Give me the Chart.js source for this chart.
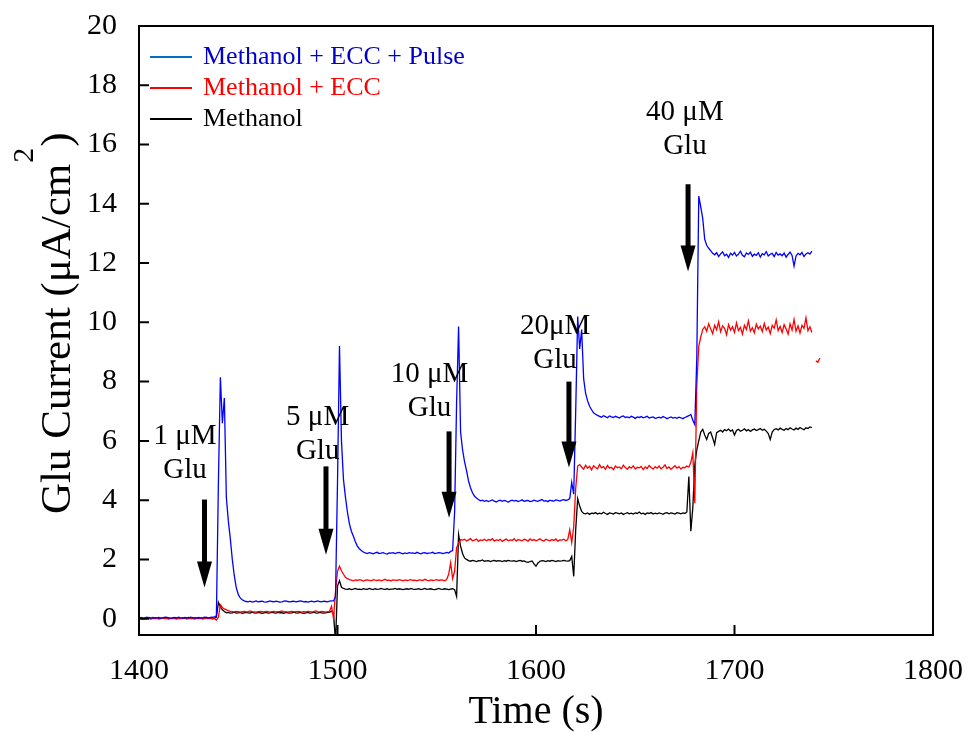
<!DOCTYPE html>
<html>
<head>
<meta charset="utf-8">
<title>Glu current vs time</title>
<script src="https://cdn.jsdelivr.net/npm/chart.js@4.4.1/dist/chart.umd.min.js"></script>
<style>
  html, body { margin: 0; padding: 0; background: #fff; }
</style>
</head>
<body>
<canvas id="chart" width="969" height="732"></canvas>
<script>
// Time axis, one sample per second (s)
var timeSec = [
  1400, 1401, 1402, 1403, 1404, 1405, 1406, 1407, 1408, 1409,
  1410, 1411, 1412, 1413, 1414, 1415, 1416, 1417, 1418, 1419,
  1420, 1421, 1422, 1423, 1424, 1425, 1426, 1427, 1428, 1429,
  1430, 1431, 1432, 1433, 1434, 1435, 1436, 1437, 1438, 1439,
  1440, 1441, 1442, 1443, 1444, 1445, 1446, 1447, 1448, 1449,
  1450, 1451, 1452, 1453, 1454, 1455, 1456, 1457, 1458, 1459,
  1460, 1461, 1462, 1463, 1464, 1465, 1466, 1467, 1468, 1469,
  1470, 1471, 1472, 1473, 1474, 1475, 1476, 1477, 1478, 1479,
  1480, 1481, 1482, 1483, 1484, 1485, 1486, 1487, 1488, 1489,
  1490, 1491, 1492, 1493, 1494, 1495, 1496, 1497, 1498, 1499,
  1500, 1501, 1502, 1503, 1504, 1505, 1506, 1507, 1508, 1509,
  1510, 1511, 1512, 1513, 1514, 1515, 1516, 1517, 1518, 1519,
  1520, 1521, 1522, 1523, 1524, 1525, 1526, 1527, 1528, 1529,
  1530, 1531, 1532, 1533, 1534, 1535, 1536, 1537, 1538, 1539,
  1540, 1541, 1542, 1543, 1544, 1545, 1546, 1547, 1548, 1549,
  1550, 1551, 1552, 1553, 1554, 1555, 1556, 1557, 1558, 1559,
  1560, 1561, 1562, 1563, 1564, 1565, 1566, 1567, 1568, 1569,
  1570, 1571, 1572, 1573, 1574, 1575, 1576, 1577, 1578, 1579,
  1580, 1581, 1582, 1583, 1584, 1585, 1586, 1587, 1588, 1589,
  1590, 1591, 1592, 1593, 1594, 1595, 1596, 1597, 1598, 1599,
  1600, 1601, 1602, 1603, 1604, 1605, 1606, 1607, 1608, 1609,
  1610, 1611, 1612, 1613, 1614, 1615, 1616, 1617, 1618, 1619,
  1620, 1621, 1622, 1623, 1624, 1625, 1626, 1627, 1628, 1629,
  1630, 1631, 1632, 1633, 1634, 1635, 1636, 1637, 1638, 1639,
  1640, 1641, 1642, 1643, 1644, 1645, 1646, 1647, 1648, 1649,
  1650, 1651, 1652, 1653, 1654, 1655, 1656, 1657, 1658, 1659,
  1660, 1661, 1662, 1663, 1664, 1665, 1666, 1667, 1668, 1669,
  1670, 1671, 1672, 1673, 1674, 1675, 1676, 1677, 1678, 1679,
  1680, 1681, 1682, 1683, 1684, 1685, 1686, 1687, 1688, 1689,
  1690, 1691, 1692, 1693, 1694, 1695, 1696, 1697, 1698, 1699,
  1700, 1701, 1702, 1703, 1704, 1705, 1706, 1707, 1708, 1709,
  1710, 1711, 1712, 1713, 1714, 1715, 1716, 1717, 1718, 1719,
  1720, 1721, 1722, 1723, 1724, 1725, 1726, 1727, 1728, 1729,
  1730, 1731, 1732, 1733, 1734, 1735, 1736, 1737, 1738, 1739,
  1740, 1741, 1742, 1743
];

// Methanol + ECC + Pulse (uA/cm2)
var pulseCurrent = [
  0.03, 0.04, 0.02, 0.03, 0.05, 0.03, 0.02, 0.04, 0.03, 0.03,
  0.04, 0.02, 0.03, 0.05, 0.04, 0.03, 0.02, 0.03, 0.04, 0.03,
  0.05, 0.03, 0.02, 0.04, 0.03, 0.03, 0.05, 0.04, 0.02, 0.03,
  0.04, 0.03, 0.03, 0.05, 0.04, 0.03, 0.04, 0.05, 0.06,
  0.1, 4.6, 8.15, 6.6, 7.45, 4.1, 3.3, 2.7, 2.0, 1.45, 1.05, 0.82, 0.7, 0.64, 0.6,
  0.58, 0.57, 0.59, 0.56, 0.58, 0.6, 0.57, 0.58, 0.59, 0.57,
  0.56, 0.58, 0.6, 0.58, 0.57, 0.59, 0.58, 0.56, 0.57, 0.59,
  0.6, 0.58, 0.57, 0.58, 0.59, 0.57, 0.58, 0.6, 0.59, 0.57,
  0.58, 0.56, 0.58, 0.59, 0.57, 0.58, 0.6, 0.58, 0.57, 0.59,
  0.58, 0.57, 0.59, 0.6,
  0.6, 0.75, 4.6, 9.2, 6.0, 4.7, 4.1, 3.6, 3.2, 2.95, 2.78, 2.6, 2.45, 2.36, 2.3, 2.25,
  2.22, 2.2, 2.23, 2.21, 2.19, 2.22, 2.24, 2.2, 2.21, 2.23,
  2.2, 2.18, 2.22, 2.21, 2.23, 2.2, 2.22, 2.24, 2.21, 2.19,
  2.22, 2.2, 2.23, 2.21, 2.22, 2.2, 2.24, 2.21, 2.19, 2.22,
  2.23, 2.2, 2.21, 2.22, 2.24, 2.2, 2.21, 2.23, 2.22, 2.2,
  2.21, 2.24, 2.22, 2.27,
  2.3, 3.6, 7.3, 9.86, 6.3, 5.7, 5.3, 5.0, 4.65, 4.42, 4.25, 4.14, 4.07, 4.02,
  3.98, 4.0, 3.96, 3.99, 3.95, 3.98, 4.01, 3.97, 3.94, 3.98,
  4.0, 3.96, 3.99, 3.97, 3.93, 3.98, 4.0, 3.97, 3.99, 3.95,
  3.98, 4.01, 3.96, 3.98, 3.99, 3.95, 3.97, 4.0, 3.98, 3.96,
  3.99, 4.02, 3.97, 3.98, 3.95, 4.0, 3.98, 3.97, 4.01, 3.99,
  3.97, 4.0, 4.02, 3.99, 4.01,
  4.05, 4.6, 4.2, 7.0, 10.2, 9.1, 9.76, 8.1, 7.6, 7.35, 7.17, 7.05, 6.95, 6.9,
  6.86, 6.83, 6.8, 6.85, 6.82, 6.78, 6.84, 6.81, 6.79, 6.83,
  6.8, 6.77, 6.82, 6.84, 6.79, 6.81, 6.78, 6.83, 6.8, 6.76,
  6.81, 6.79, 6.82, 6.78, 6.8, 6.83, 6.77, 6.79, 6.81, 6.76,
  6.78, 6.8, 6.77, 6.82, 6.79, 6.75, 6.78, 6.81, 6.77, 6.79,
  6.76, 6.8, 6.78, 6.75, 6.79, 6.82, 6.85,
  6.89, 6.7, 6.55, 8.8, 14.26, 13.9, 13.5, 12.8, 12.6, 12.5, 12.42, 12.33,
  12.28, 12.35, 12.22, 12.31, 12.38, 12.25, 12.3, 12.19, 12.33, 12.27,
  12.36, 12.24, 12.3, 12.4, 12.26, 12.21, 12.34, 12.29, 12.37, 12.23,
  12.3, 12.26, 12.35, 12.2, 12.32, 12.28, 12.39, 12.24, 12.3, 12.33,
  12.22, 12.36, 12.27, 12.31, 12.25, 12.34, 12.2, 12.29, 12.37, 12.26,
  11.9, 12.24, 12.33, 12.28, 12.36, 12.22, 12.31, 12.35, 12.3, 12.4
];

// Methanol + ECC (uA/cm2)
var eccCurrent = [
  0.0, 0.01, -0.01, 0.0, 0.02, 0.0, -0.01, 0.01, 0.0, 0.01,
  -0.01, 0.0, 0.02, 0.0, 0.01, -0.01, 0.0, 0.01, 0.0, -0.01,
  0.01, 0.0, 0.0, 0.02, -0.01, 0.0, 0.01, 0.0, -0.01, 0.01,
  0.0, 0.01, -0.01, 0.0, 0.02, 0.0, 0.01, -0.01, 0.0, -0.05,
  0.05, 0.47, 0.38, 0.33, 0.3, 0.27, 0.25,
  0.24, 0.23, 0.25, 0.24, 0.22, 0.24, 0.25, 0.23, 0.24, 0.26,
  0.24, 0.23, 0.22, 0.24, 0.25, 0.24, 0.23, 0.25, 0.24, 0.22,
  0.24, 0.25, 0.23, 0.24, 0.24, 0.26, 0.23, 0.24, 0.22, 0.24,
  0.25, 0.23, 0.24, 0.25, 0.24, 0.22, 0.24, 0.23, 0.25, 0.24,
  0.23, 0.24, 0.26, 0.24, 0.23, 0.25, 0.24, 0.22, 0.24, 0.25,
  0.42, 0.0, 0.9, 1.6, 1.77, 1.62, 1.5, 1.4, 1.35, 1.32,
  1.3, 1.28, 1.31, 1.29, 1.32, 1.3, 1.27, 1.3, 1.31, 1.29,
  1.28, 1.32, 1.3, 1.29, 1.31, 1.28, 1.3, 1.33, 1.29, 1.3,
  1.28, 1.31, 1.3, 1.29, 1.32, 1.3, 1.28, 1.31, 1.29, 1.3,
  1.32, 1.29, 1.3, 1.28, 1.31, 1.3, 1.29, 1.33, 1.3, 1.28,
  1.31, 1.29, 1.3, 1.32, 1.29, 1.31, 1.3, 1.28, 1.32,
  1.5, 1.89, 1.35, 1.6, 2.4, 2.55, 2.67,
  2.65, 2.68, 2.62, 2.66, 2.7, 2.63, 2.65, 2.69, 2.61, 2.66,
  2.64, 2.68, 2.63, 2.67, 2.65, 2.7, 2.62, 2.66, 2.64, 2.68,
  2.61, 2.65, 2.69, 2.63, 2.66, 2.64, 2.7, 2.62, 2.67, 2.65,
  2.63, 2.68, 2.66, 2.62, 2.69, 2.64, 2.67, 2.63, 2.66, 2.7,
  2.64, 2.62, 2.68, 2.65, 2.63, 2.67, 2.64, 2.69, 2.62, 2.66,
  2.65, 2.68, 2.63, 2.67,
  3.0, 2.57, 3.1, 4.4, 5.15, 5.2,
  5.12, 5.05, 5.18, 5.08, 5.14, 5.02, 5.16, 5.1, 5.06, 5.2,
  5.09, 5.13, 5.04, 5.17, 5.08, 5.11, 5.03, 5.15, 5.09, 5.12,
  5.06, 5.18, 5.1, 5.04, 5.13, 5.08, 5.16, 5.05, 5.11, 5.09,
  5.14, 5.03, 5.12, 5.07, 5.17, 5.1, 5.05, 5.13, 5.08, 5.15,
  5.06, 5.11, 5.19, 5.07, 5.12, 5.04, 5.1, 5.16, 5.08, 5.13,
  5.05, 5.11, 5.09, 5.15, 5.12,
  5.27, 5.6, 3.9, 7.85, 9.2, 9.5, 9.76,
  9.85, 9.7, 9.95, 9.78, 9.62, 9.9, 9.75, 10.02, 9.68, 9.88,
  9.8, 9.58, 9.92, 9.74, 9.85, 9.66, 9.98, 9.72, 9.83, 9.6,
  9.9, 9.76, 10.05, 9.7, 9.82, 9.65, 9.94, 9.78, 9.87, 9.69,
  9.96, 9.74, 9.84, 9.62, 9.9, 9.8, 10.08, 9.72, 9.86, 9.66,
  9.92, 9.78, 9.6, 9.95, 9.74, 10.1, 9.7, 9.88, 9.64, 9.9,
  9.8, 10.15, 9.72, 9.85, 9.66,
  null, 8.7, 8.65, 8.8
];

// Methanol only (uA/cm2)
var methanolCurrent = [
  0.02, 0.03, 0.01, 0.02, 0.02, 0.04, 0.01, 0.02, 0.03, 0.02,
  0.01, 0.02, 0.03, 0.02, 0.04, 0.02, 0.01, 0.02, 0.03, 0.02,
  0.02, 0.01, 0.03, 0.02, 0.02, 0.04, 0.02, 0.01, 0.03, 0.02,
  0.02, 0.03, 0.01, 0.02, 0.04, 0.02, 0.02, 0.03, 0.01, 0.05,
  0.55, 0.4, 0.3, 0.24,
  0.2, 0.21, 0.19, 0.2, 0.22, 0.19, 0.2, 0.21, 0.18, 0.2,
  0.21, 0.2, 0.19, 0.22, 0.2, 0.19, 0.21, 0.2, 0.18, 0.2,
  0.21, 0.19, 0.2, 0.22, 0.2, 0.19, 0.21, 0.2, 0.2, 0.18,
  0.21, 0.2, 0.19, 0.2, 0.22, 0.2, 0.19, 0.21, 0.2, 0.18,
  0.2, 0.21, 0.19, 0.2, 0.22, 0.2, 0.19, 0.21, 0.2, 0.19,
  0.2, 0.21, 0.22, 0.25, 0.18,
  -0.8, 1.1, 1.28, 1.06,
  1.02, 1.0, 0.99, 1.01, 0.98, 1.0, 1.02, 0.99, 1.0, 0.98,
  1.01, 1.0, 0.99, 1.02, 1.0, 0.98, 1.01, 0.99, 1.0, 1.02,
  1.0, 0.99, 1.01, 0.98, 1.0, 1.0, 1.02, 0.99, 1.01, 1.0,
  0.98, 1.0, 1.01, 0.99, 1.02, 1.0, 0.99, 1.0, 1.01, 0.98,
  1.0, 1.02, 0.99, 1.0, 1.01, 0.99, 0.98, 1.0, 1.02, 1.0,
  0.99, 1.01, 1.0, 0.98, 1.0, 1.01, 0.98,
  0.75, 2.84, 2.45, 2.2, 2.05, 2.0,
  1.96, 1.94, 1.97, 1.95, 1.93, 1.96, 1.95, 1.98, 1.94, 1.95,
  1.96, 1.93, 1.95, 1.97, 1.94, 1.96, 1.95, 1.93, 1.96, 1.94,
  1.97, 1.95, 1.94, 1.96, 1.93, 1.95, 1.97, 1.94, 1.95, 1.92,
  1.9, 1.93, 1.95, 1.85, 1.77, 1.88, 1.94, 1.96, 1.95, 1.93,
  1.96, 1.94, 1.97, 1.95, 1.93, 1.96, 1.94, 1.95, 1.97, 1.95,
  1.94, 1.96,
  2.1, 1.43, 3.0, 4.05, 3.8, 3.62, 3.55,
  3.54, 3.57, 3.52, 3.56, 3.55, 3.58, 3.53, 3.56, 3.54, 3.59,
  3.55, 3.52, 3.57, 3.55, 3.53, 3.58, 3.56, 3.54, 3.57, 3.52,
  3.55, 3.58, 3.54, 3.56, 3.53, 3.57, 3.55, 3.6, 3.54, 3.56,
  3.52, 3.57, 3.55, 3.58, 3.53, 3.56, 3.54, 3.57, 3.55, 3.52,
  3.56, 3.58, 3.54, 3.57, 3.55, 3.53, 3.58, 3.56, 3.54, 3.57,
  3.55, 3.6,
  4.8, 2.95, 3.75, 5.2, 5.7, 6.0, 6.3, 6.39, 6.2, 6.05, 6.25, 6.3, 6.1, 5.88, 6.28,
  6.32, 6.36, 6.3, 6.38, 6.34, 6.4, 6.33, 6.37, 6.2, 6.35,
  6.39, 6.33, 6.36, 6.41, 6.34, 6.38, 6.32, 6.37, 6.4, 6.35,
  6.38, 6.42, 6.36, 6.39, 6.33, 6.25, 6.05, 6.3, 6.38, 6.41,
  6.37, 6.43, 6.39, 6.36, 6.42, 6.38, 6.44, 6.4, 6.37, 6.43,
  6.39, 6.45, 6.41, 6.38, 6.44, 6.42, 6.47, 6.45
];

var seriesNames = ['Methanol + ECC + Pulse', 'Methanol + ECC', 'Methanol'];
var yTickValues = [0, 2, 4, 6, 8, 10, 12, 14, 16, 18, 20];
var xTickValues = [1400, 1500, 1600, 1700, 1800];

// Glutamate additions: arrow time, arrow top/tip (current units), label lines
var glutamateAdds = [
  {t: 1433.0, top: 4.02, tip: 1.05, lines: ['1 μM', 'Glu'], labelT: 1423.2, labelV: 6.15},
  {t: 1494.2, top: 5.14, tip: 2.16, lines: ['5 μM', 'Glu'], labelT: 1490.0, labelV: 6.79},
  {t: 1556.2, top: 6.32, tip: 3.41, lines: ['10 μM', 'Glu'], labelT: 1546.4, labelV: 8.24},
  {t: 1616.6, top: 8.0, tip: 5.1, lines: ['20μM', 'Glu'], labelT: 1609.6, labelV: 9.86},
  {t: 1676.6, top: 14.66, tip: 11.72, lines: ['40 μM', 'Glu'], labelT: 1675.0, labelV: 17.1}
];

var FONT = "'Liberation Serif', 'Times New Roman', serif";
var lineColors = ['#0000ff', '#ff0000', '#000000'];
var legendLineColors = ['#0070c0', '#ff0000', '#000000'];
var legendTextColors = ['#0000cc', '#ff0000', '#000000'];

function toPoints(values) {
    return values.map(function(v, i) { return {x: timeSec[i], y: v}; });
}

// Frame, inward ticks, legend, arrows and the y title
var decorPlugin = {
    id: 'decor',
    afterDraw: function(chart) {
        var ctx = chart.ctx;
        var area = chart.chartArea;
        var xs = chart.scales.x;
        var ys = chart.scales.y;
        ctx.save();

        ctx.strokeStyle = '#000';
        ctx.lineWidth = 2;
        ctx.strokeRect(area.left, area.top, area.right - area.left, area.bottom - area.top);
        ctx.beginPath();
        yTickValues.forEach(function(v) {
            var y = ys.getPixelForValue(v);
            ctx.moveTo(area.left, y);
            ctx.lineTo(area.left + 10, y);
        });
        xTickValues.forEach(function(v) {
            var x = xs.getPixelForValue(v);
            ctx.moveTo(x, area.bottom);
            ctx.lineTo(x, area.bottom - 10);
        });
        ctx.stroke();

        // legend, top left inside the plot
        ctx.font = '26px ' + FONT;
        ctx.textBaseline = 'middle';
        ctx.textAlign = 'left';
        seriesNames.forEach(function(name, i) {
            var y = area.top + 31 + i * 31;
            ctx.strokeStyle = legendLineColors[i];
            ctx.lineWidth = 2;
            ctx.beginPath();
            ctx.moveTo(area.left + 11, y);
            ctx.lineTo(area.left + 53, y);
            ctx.stroke();
            ctx.fillStyle = legendTextColors[i];
            ctx.fillText(name, area.left + 64, y);
        });

        // addition arrows and labels
        ctx.fillStyle = '#000';
        ctx.textAlign = 'center';
        ctx.font = '29px ' + FONT;
        glutamateAdds.forEach(function(a) {
            var x = xs.getPixelForValue(a.t);
            var yTop = ys.getPixelForValue(a.top);
            var yTip = ys.getPixelForValue(a.tip);
            var headLen = 26;
            ctx.fillRect(x - 2.5, yTop, 5, yTip - yTop - headLen + 2);
            ctx.beginPath();
            ctx.moveTo(x - 7.5, yTip - headLen);
            ctx.lineTo(x + 7.5, yTip - headLen);
            ctx.lineTo(x, yTip);
            ctx.closePath();
            ctx.fill();
            var lx = xs.getPixelForValue(a.labelT);
            var ly = ys.getPixelForValue(a.labelV);
            a.lines.forEach(function(line, k) {
                ctx.fillText(line, lx, ly + k * 34);
            });
        });

        // y axis title with superscript
        ctx.translate(70, 514);
        ctx.rotate(-Math.PI / 2);
        ctx.textAlign = 'left';
        ctx.textBaseline = 'alphabetic';
        ctx.font = '43px ' + FONT;
        var main = 'Glu Current (μA/cm';
        var w = ctx.measureText(main).width;
        ctx.fillText(main, 0, 0);
        ctx.font = '30px ' + FONT;
        ctx.fillText('2', w + 1, -37);
        var w2 = ctx.measureText('2').width;
        ctx.font = '43px ' + FONT;
        ctx.fillText(')', w + w2 + 2, 0);
        ctx.restore();
    }
};

new Chart(document.getElementById('chart'), {
    type: 'line',
    data: {
        datasets: [
            {label: seriesNames[0], data: toPoints(pulseCurrent), borderColor: lineColors[0]},
            {label: seriesNames[1], data: toPoints(eccCurrent), borderColor: lineColors[1]},
            {label: seriesNames[2], data: toPoints(methanolCurrent), borderColor: lineColors[2]}
        ]
    },
    options: {
        responsive: false,
        animation: false,
        layout: {padding: {top: 26, right: 36, left: 0, bottom: 0}},
        elements: {
            point: {radius: 0},
            line: {borderWidth: 1.3, tension: 0}
        },
        plugins: {legend: {display: false}, tooltip: {enabled: false}},
        scales: {
            x: {
                type: 'linear',
                min: 1400,
                max: 1800,
                grid: {display: false},
                border: {display: false},
                afterBuildTicks: function(scale) {
                    scale.ticks = xTickValues.map(function(v) { return {value: v}; });
                },
                afterFit: function(scale) {
                    scale.height = 97;
                    scale.paddingLeft = 0;
                    scale.paddingRight = 0;
                },
                ticks: {
                    color: '#000',
                    padding: 10,
                    maxRotation: 0,
                    font: {family: FONT, size: 30},
                    callback: function(v) { return String(v); }
                },
                title: {
                    display: true,
                    text: 'Time (s)',
                    color: '#000',
                    font: {family: FONT, size: 40, lineHeight: 1},
                    padding: {top: 0, bottom: 0}
                }
            },
            y: {
                min: -0.55,
                max: 20,
                grid: {display: false},
                border: {display: false},
                afterBuildTicks: function(scale) {
                    scale.ticks = yTickValues.map(function(v) { return {value: v}; });
                },
                afterFit: function(scale) {
                    scale.width = 139;
                    scale.paddingTop = 0;
                    scale.paddingBottom = 0;
                },
                ticks: {
                    color: '#000',
                    padding: 14,
                    font: {family: FONT, size: 30},
                    callback: function(v) { return String(v); }
                }
            }
        }
    },
    plugins: [decorPlugin]
});
</script>
</body>
</html>
